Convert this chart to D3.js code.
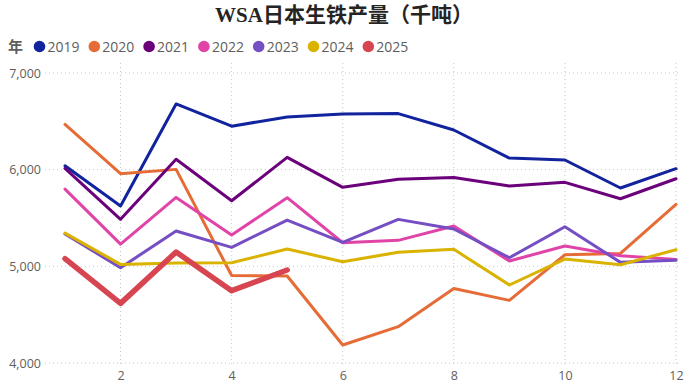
<!DOCTYPE html>
<html><head><meta charset="utf-8">
<script src="https://cdn.jsdelivr.net/npm/d3@7"></script>
<style>body{margin:0;background:#fff}svg{display:block}</style>
</head><body><svg id="c" width="700" height="388"></svg>
<script>
const months = [1,2,3,4,5,6,7,8,9,10,11,12];
const years = ["2019","2020","2021","2022","2023","2024","2025"];
const colors = ["#12239E","#E66C37","#6B007B","#E044A7","#744EC2","#D9B300","#D64550"];
const v2019 = [6040,5625,6680,6450,6545,6575,6580,6410,6120,6100,5810,6010];
const v2020 = [6468,5958,6003,4905,4900,4186,4376,4770,4648,5120,5134,5641];
const v2021 = [6013,5486,6107,5678,6127,5817,5900,5920,5830,5869,5699,5906];
const v2022 = [5799,5230,5713,5324,5710,5244,5269,5417,5055,5210,5110,5072];
const v2023 = [5334,4986,5365,5196,5479,5248,5486,5386,5089,5410,5041,5062];
const v2024 = [5344,5020,5034,5037,5179,5048,5145,5176,4807,5075,5017,5172];
const v2025 = [5079,4617,5148,4748,4962];
const series = [v2019,v2020,v2021,v2022,v2023,v2024,v2025];
const yTicks = [4000,5000,6000,7000];
const xTicks = [2,4,6,8,10,12];

const svg = d3.select("#c");
const x = d3.scaleLinear().domain([1,12]).range([65,676]);
const y = d3.scaleLinear().domain([4000,7000]).range([363,73]);

// title
svg.append("text").attr("x",344).attr("y",22).attr("text-anchor","middle")
  .attr("font-family","'Liberation Serif','Noto Sans CJK SC',serif").attr("font-weight","bold")
  .attr("font-size",21).attr("fill","#252423").text("WSA日本生铁产量（千吨）");

// legend
const lg = svg.append("g");
lg.append("text").attr("x",8).attr("y",52).attr("font-family","'Noto Sans CJK SC',sans-serif")
  .attr("font-weight","bold").attr("font-size",15).attr("fill","#605E5C").text("年");
years.forEach((yr,i)=>{
  const cx = 39.5 + i*54.8;
  lg.append("circle").attr("cx",cx).attr("cy",46.5).attr("r",5.8).attr("fill",colors[i]);
  lg.append("text").attr("x",cx+8).attr("y",52).attr("font-family","'Open Sans',sans-serif")
    .attr("font-size",15).attr("fill","#605E5C").attr("textLength",32).attr("lengthAdjust","spacingAndGlyphs").text(yr);
});

// grid
const g = svg.append("g");
g.selectAll("line.h").data(yTicks).join("line").attr("x1",45).attr("x2",680)
  .attr("y1",d=>y(d)).attr("y2",d=>y(d)).attr("stroke","#C8C8C8").attr("stroke-width",1).attr("stroke-dasharray","1,3");
g.selectAll("line.v").data(xTicks).join("line").attr("y1",63).attr("y2",366)
  .attr("x1",d=>x(d)).attr("x2",d=>x(d)).attr("stroke","#C8C8C8").attr("stroke-width",1).attr("stroke-dasharray","1,3");

// axes labels
const yAxis = d3.axisLeft(y).tickValues(yTicks).tickFormat(d3.format(",")).tickSize(0).tickPadding(0);
const ya = svg.append("g").attr("transform","translate(41,0)").call(yAxis);
ya.select(".domain").remove();
ya.selectAll("text").attr("font-family","'Open Sans',sans-serif").attr("font-size",12.5).attr("fill","#605E5C");
const xAxis = d3.axisBottom(x).tickValues(xTicks).tickSize(0).tickPadding(0);
const xa = svg.append("g").attr("transform","translate(0,371)").call(xAxis);
xa.select(".domain").remove();
xa.selectAll("text").attr("font-family","'Open Sans',sans-serif").attr("font-size",12.5).attr("fill","#605E5C");

// lines
const line = d3.line().x((d,i)=>x(months[i])).y(d=>y(d));
series.forEach((s,i)=>{
  svg.append("path").datum(s).attr("d",line).attr("fill","none").attr("stroke",colors[i])
    .attr("stroke-width", i===6?5.5:3).attr("stroke-linejoin","round").attr("stroke-linecap","round");
});
</script></body></html>
